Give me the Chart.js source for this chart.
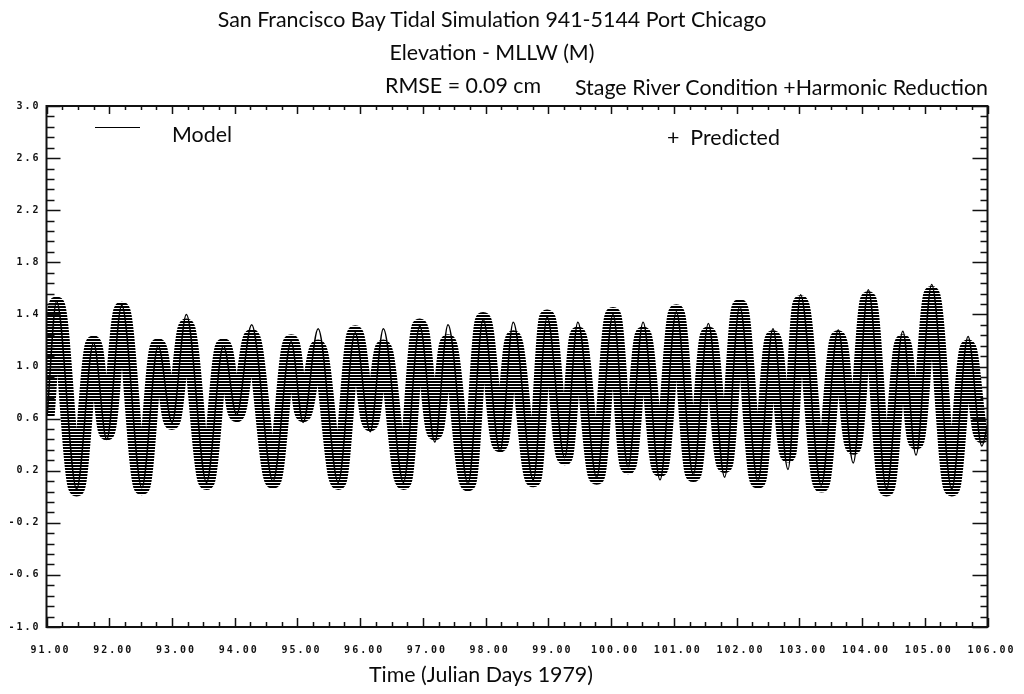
<!DOCTYPE html>
<html>
<head>
<meta charset="utf-8">
<script src="https://cdn.jsdelivr.net/npm/chart.js@4.4.0/dist/chart.umd.min.js"></script>
<style>
  html, body { margin: 0; padding: 0; background: #fff; }
  #wrap { position: relative; width: 1024px; height: 694px; }
  .t { position: absolute; font-family: Lato, "Open Sans", sans-serif; font-size: 21.4px; color: #0a0a0a; white-space: nowrap; line-height: 1; transform: translateY(-50%); }
</style>
</head>
<body>
<div id="wrap">
  <canvas id="tideChart"></canvas>
  <div class="t" style="left:0;width:984px;text-align:center;top:20px">San Francisco Bay Tidal Simulation 941-5144 Port Chicago</div>
  <div class="t" style="left:0;width:984px;text-align:center;top:53px">Elevation - MLLW (M)</div>
  <div class="t" style="left:385px;top:86px">RMSE = 0.09 cm</div>
  <div class="t" style="left:575px;top:88px">Stage River Condition +Harmonic Reduction</div>
  <div style="position:absolute;left:95px;top:127px;width:45px;height:0;border-top:1.5px solid #000"></div>
  <div class="t" style="left:172px;top:135px">Model</div>
  <div class="t" style="left:667px;top:138px">+&nbsp;&nbsp;Predicted</div>
  <div class="t" style="left:0;width:962px;text-align:center;top:675px">Time (Julian Days 1979)</div>
</div>
<script>
// times of the tidal highs and lows (Julian day 1979)
const days = [91.01, 91.16, 91.48, 91.75, 91.96, 92.20, 92.52, 92.78, 93.00, 93.23,
  93.55, 93.82, 94.03, 94.27, 94.61, 94.90, 95.09, 95.33, 95.65, 95.92,
  96.16, 96.37, 96.69, 96.95, 97.19, 97.40, 97.72, 97.96, 98.23, 98.44,
  98.76, 98.98, 99.26, 99.47, 99.77, 100.03, 100.27, 100.51, 100.78, 101.04,
  101.31, 101.55, 101.81, 102.05, 102.34, 102.58, 102.82, 103.02, 103.35, 103.62,
  103.86, 104.10, 104.39, 104.65, 104.86, 105.11, 105.43, 105.69, 105.91, 106.00];

// predicted (harmonic) elevation, m
const predicted = [0.62, 1.48, 0.06, 1.18, 0.49, 1.44, 0.07, 1.16, 0.57, 1.31,
  0.11, 1.16, 0.63, 1.23, 0.12, 1.19, 0.63, 1.15, 0.11, 1.26,
  0.56, 1.15, 0.11, 1.31, 0.49, 1.19, 0.10, 1.36, 0.40, 1.22,
  0.13, 1.38, 0.30, 1.25, 0.15, 1.40, 0.23, 1.25, 0.21, 1.42,
  0.17, 1.25, 0.24, 1.46, 0.12, 1.22, 0.32, 1.49, 0.09, 1.22,
  0.38, 1.52, 0.06, 1.19, 0.42, 1.56, 0.06, 1.15, 0.47, 0.55];

// model elevation, m
const model = [0.62, 1.50, 0.06, 1.18, 0.44, 1.47, 0.07, 1.16, 0.57, 1.40,
  0.11, 1.16, 0.63, 1.32, 0.12, 1.19, 0.57, 1.29, 0.11, 1.26,
  0.50, 1.29, 0.11, 1.31, 0.42, 1.32, 0.10, 1.36, 0.35, 1.34,
  0.13, 1.38, 0.30, 1.34, 0.15, 1.40, 0.23, 1.34, 0.13, 1.42,
  0.17, 1.33, 0.15, 1.46, 0.12, 1.29, 0.21, 1.55, 0.09, 1.28,
  0.26, 1.59, 0.06, 1.27, 0.32, 1.63, 0.06, 1.23, 0.39, 0.55];

// horizontal hatch used for the dense "+" markers of the predicted series
function hatch() {
  const c = document.createElement('canvas');
  c.width = 4; c.height = 3;
  const g = c.getContext('2d');
  g.fillStyle = '#000';
  g.fillRect(0, 0, 4, 2);
  return g.createPattern(c, 'repeat');
}

const frameTicks = {
  id: 'frameTicks',
  beforeDraw(chart) {
    chart.ctx.letterSpacing = '2px';
  },
  afterDraw(chart) {
    const { ctx, chartArea: a, scales: { x, y } } = chart;
    ctx.save();
    ctx.strokeStyle = '#111';
    ctx.lineWidth = 1.5;
    ctx.beginPath();
    for (let i = 0; i <= 60; i++) {
      const px = Math.round(x.getPixelForValue(x.min + i * 0.25)) + 0.5;
      const major = i % 4 === 0;
      ctx.moveTo(px, a.bottom); ctx.lineTo(px, a.bottom - (major ? 9 : 5));
      ctx.moveTo(px, a.top); ctx.lineTo(px, a.top + (major ? 8 : 4));
    }
    for (let i = 0; i <= 50; i++) {
      const py = Math.round(y.getPixelForValue(y.min + i * 0.08)) + 0.5;
      const major = i % 5 === 0;
      ctx.moveTo(a.left, py); ctx.lineTo(a.left + (major ? 14 : 8), py);
      ctx.moveTo(a.right, py); ctx.lineTo(a.right - (major ? 15 : 7), py);
    }
    ctx.stroke();
    ctx.lineWidth = 2;
    ctx.strokeRect(a.left, a.top, a.right - a.left, a.bottom - a.top);
    ctx.restore();
  }
};

const tickFont = { family: 'DejaVu Sans Mono', size: 10, weight: 'bold' };

new Chart(document.getElementById('tideChart'), {
  type: 'line',
  data: {
    datasets: [{
      label: 'Model',
      data: days.map((d, i) => ({ x: d, y: model[i] })),
      borderColor: '#000',
      borderWidth: 1.5,
      pointRadius: 0,
      cubicInterpolationMode: 'monotone'
    }, {
      label: 'Predicted',
      data: days.map((d, i) => ({ x: d, y: predicted[i] })),
      borderColor: hatch(),
      borderWidth: 15,
      pointRadius: 0,
      cubicInterpolationMode: 'monotone'
    }]
  },
  options: {
    responsive: true,
    maintainAspectRatio: false,
    animation: false,
    events: [],
    layout: { padding: { top: 106, right: 36.5, bottom: 27, left: 0 } },
    plugins: { legend: { display: false }, title: { display: false }, tooltip: { enabled: false } },
    scales: {
      x: {
        type: 'linear',
        min: 91, max: 106,
        afterFit: s => { s.height = 40; },
        grid: { display: false, drawTicks: false },
        border: { display: false },
        ticks: {
          stepSize: 1,
          padding: 17,
          labelOffset: 4,
          color: '#111',
          font: tickFont,
          maxRotation: 0,
          autoSkip: false,
          callback: v => v.toFixed(2)
        }
      },
      y: {
        min: -1, max: 3,
        afterFit: s => { s.width = 46.5; },
        grid: { display: false, drawTicks: false },
        border: { display: false },
        ticks: {
          stepSize: 0.4,
          padding: 6,
          color: '#111',
          font: tickFont,
          callback: v => v.toFixed(1)
        }
      }
    }
  },
  plugins: [frameTicks]
});
</script>
</body>
</html>
